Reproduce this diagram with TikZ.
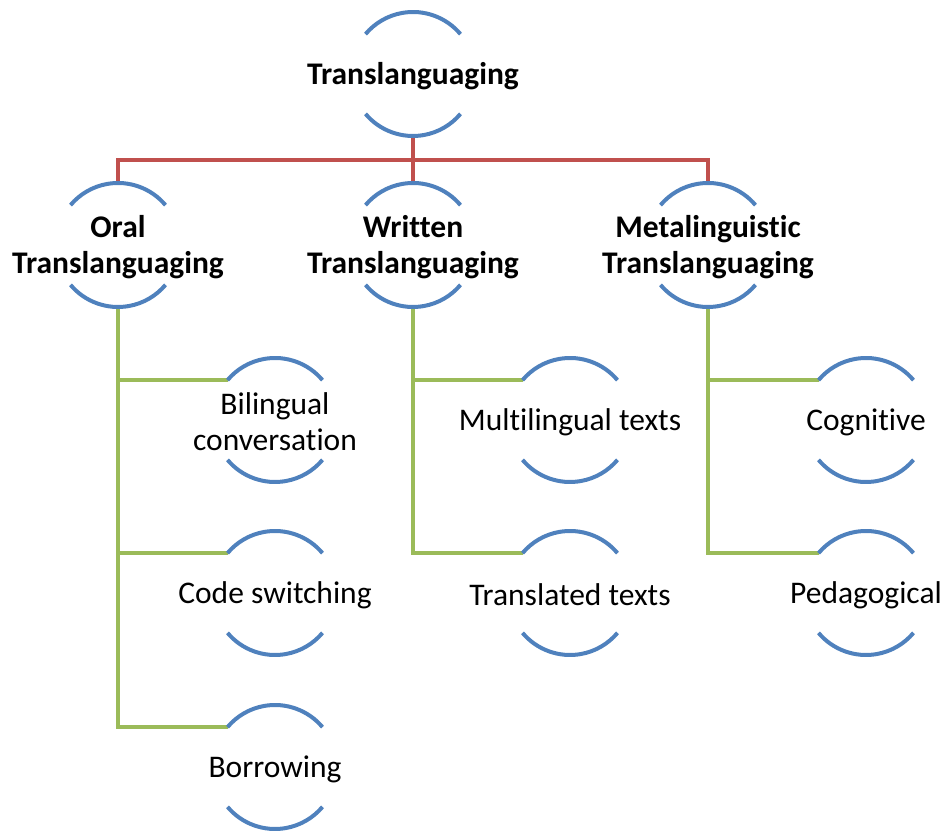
\documentclass[tikz,border=0pt]{standalone}
\usepackage{fontspec}
\setmainfont{Carlito}[Ligatures={NoCommon}]
\definecolor{arcblue}{HTML}{4F81BD}
\definecolor{busred}{HTML}{C0504D}
\definecolor{busgreen}{HTML}{9BBB59}
\tikzset{
  circ/.style={circle, minimum size=124bp, inner sep=0pt, outer sep=0pt, draw=none},
  lbl/.style={align=center, inner sep=0pt, font=\fontsize{31.5bp}{36bp}\selectfont},
  blbl/.style={lbl, font=\fontsize{31.5bp}{36bp}\selectfont\bfseries},
  arcst/.style={draw=arcblue, line width=4bp},
  redline/.style={draw=busred, line width=4bp},
  greenline/.style={draw=busgreen, line width=4bp},
}
\newcommand\mycirc[5]{%
  \node[#5] (#1-t) at ([yshift=-2bp]#1.center) {#4};
  \draw[arcst] (#1.40) arc[start angle=40, end angle=140, radius=62bp];
  \draw[arcst] (#1.220) arc[start angle=220, end angle=320, radius=62bp];
}
\begin{document}
\begin{tikzpicture}[x=1bp, y=1bp]
\useasboundingbox (0,0) rectangle (945,832);
% connectors first
\node[circ] (top) at (413,758) {};
\node[circ] (oral) at (118,587) {};
\node[circ] (written) at (413,587) {};
\node[circ] (meta) at (708,587) {};
\node[circ] (bil) at (275,412) {};
\node[circ] (code) at (275,239) {};
\node[circ] (bor) at (275,65) {};
\node[circ] (multi) at (570,412) {};
\node[circ] (trans) at (570,239) {};
\node[circ] (cog) at (866,412) {};
\node[circ] (ped) at (866,239) {};
\coordinate (bus) at (413,672);
\draw[redline] (top.south) -- (bus);
\draw[redline] (oral.north) |- (bus) -| (meta.north);
\draw[redline] (written.north) -- (bus);
\draw[greenline] (oral.south) |- (bil.140);
\draw[greenline] (oral.south) |- (code.140);
\draw[greenline] (oral.south) |- (bor.140);
\draw[greenline] (written.south) |- (multi.140);
\draw[greenline] (written.south) |- (trans.140);
\draw[greenline] (meta.south) |- (cog.140);
\draw[greenline] (meta.south) |- (ped.140);
% nodes with arcs
\mycirc{top}{413}{758}{Translanguaging}{blbl}
\mycirc{oral}{118}{587}{Oral\\Translanguaging}{blbl}
\mycirc{written}{413}{587}{Written\\Translanguaging}{blbl}
\mycirc{meta}{708}{587}{Metalinguistic\\Translanguaging}{blbl}
\mycirc{bil}{275}{412}{Bilingual\\conversation}{lbl}
\mycirc{code}{275}{239}{Code switching}{lbl}
\mycirc{bor}{275}{65}{Borrowing}{lbl}
\mycirc{multi}{570}{412}{Multilingual texts}{lbl}
\mycirc{trans}{570}{239}{Translated texts}{lbl}
\mycirc{cog}{866}{412}{Cognitive}{lbl}
\mycirc{ped}{866}{239}{Pedagogical}{lbl}
\end{tikzpicture}
\end{document}
